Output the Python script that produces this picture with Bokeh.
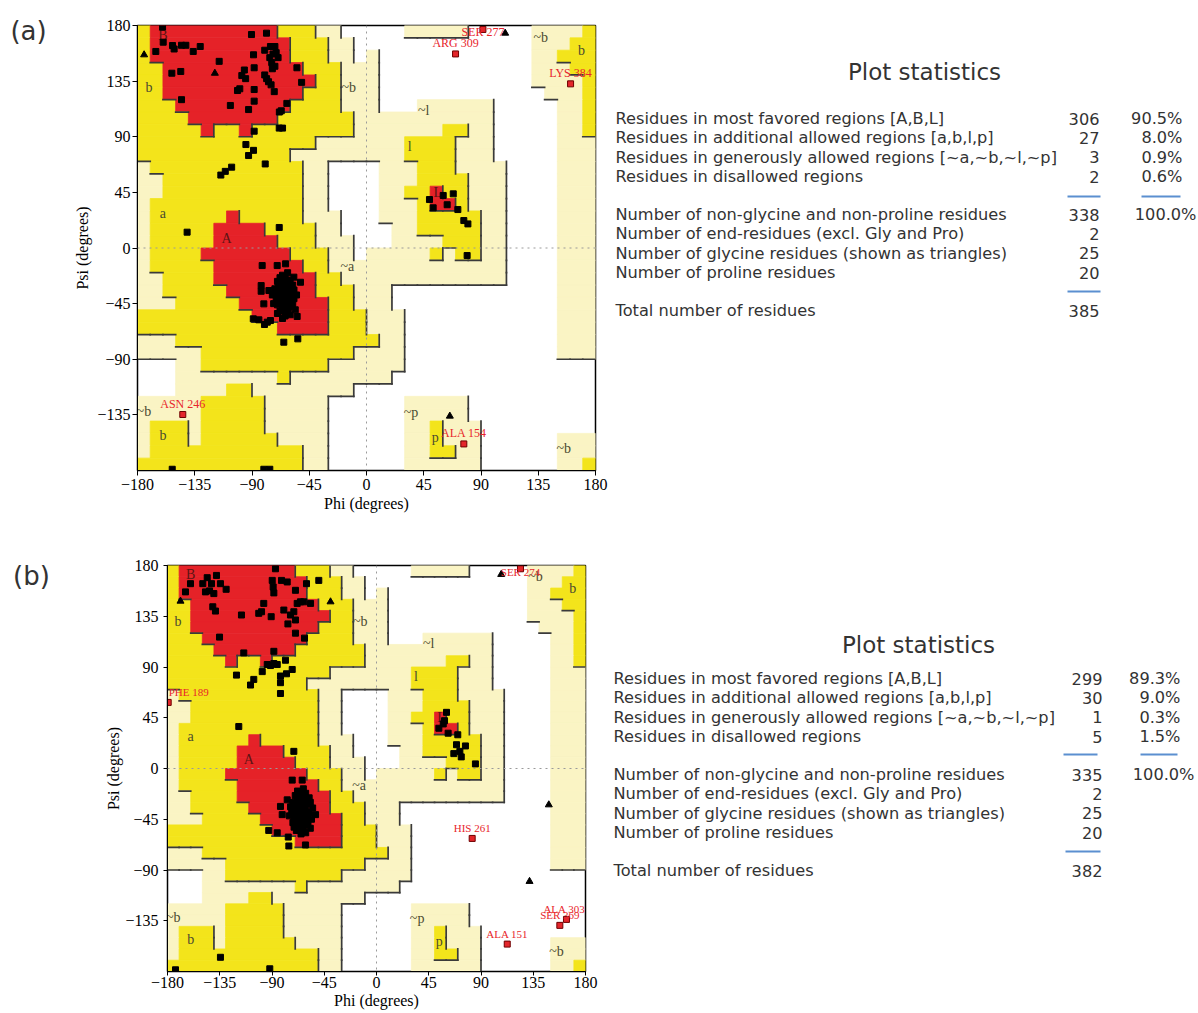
from bokeh.plotting import figure
from bokeh.layouts import row, column
from bokeh.models import Range1d, FixedTicker, Span, ColumnDataSource, LabelSet
from bokeh.core.properties import value
from bokeh.embed import file_html
from bokeh.resources import INLINE

# ---------------- data ----------------
# PROCHECK region map: 36 rows (psi 180 -> -180, 10 deg each), run-length encoded over phi -180 -> 180
# R = most favoured, Y = additional allowed, P = generously allowed, W = disallowed
REGION_RUNS = [
    "Y1 R10 Y3 P2 W5 P5 W5 P4 Y1",
    "Y1 R11 Y3 P2 W14 P3 Y2",
    "Y1 R11 Y3 P2 W1 P1 W12 P2 Y3",
    "Y2 R11 Y3 P3 W12 P3 Y2",
    "Y2 R12 Y2 P3 W12 P4 Y1",
    "Y2 R11 Y3 P3 W13 P3 Y1",
    "Y3 R9 Y4 P3 W3 P6 W5 P2 Y1",
    "Y4 R7 Y6 P11 W5 P2 Y1",
    "Y5 R1 Y2 R1 Y8 P7 Y2 P2 W5 P2 Y1",
    "Y14 P7 Y4 P3 W5 P3",
    "Y12 P9 Y4 P3 W5 P3",
    "P1 Y12 P2 W4 P3 Y3 P4 W4 P3",
    "P2 Y11 P2 W4 P3 Y4 P3 W4 P3",
    "P2 Y11 P2 W4 P2 Y2 R1 Y2 P3 W4 P3",
    "P1 Y12 P2 W4 P3 Y1 R2 Y1 P3 W4 P3",
    "P1 Y6 R1 Y5 P3 W3 P3 Y5 P2 W4 P3",
    "P1 Y5 R4 Y4 P2 W4 P2 Y5 P2 W4 P3",
    "P1 Y5 R5 Y3 P3 W3 P4 Y3 P2 W4 P3",
    "P1 Y4 R7 Y3 P2 W1 P5 Y1 P1 Y2 P2 W4 P3",
    "P1 Y5 R7 Y2 P14 W4 P3",
    "P2 Y4 R8 Y2 P13 W4 P3",
    "P2 Y5 R7 Y3 P3 W13 P3",
    "P3 Y5 R7 Y2 P3 W13 P3",
    "Y9 R6 Y3 P3 W12 P3",
    "Y11 R4 Y3 P3 W12 P3",
    "P3 Y16 P2 W12 P3",
    "P5 Y12 P4 W12 P3",
    "W3 P2 Y10 P6 W15",
    "W3 P8 Y1 P8 W16",
    "W3 P4 Y2 P8 W19",
    "P5 Y5 P5 W6 P5 W10",
    "P5 Y5 P5 W6 P5 W10",
    "P1 Y3 P1 Y5 P5 W6 P2 Y1 P3 W9",
    "P1 Y3 P1 Y6 P4 W6 P2 Y1 P3 W6 P3",
    "P1 Y12 P2 W6 P2 Y2 P2 W6 P3",
    "Y13 P2 W6 P6 W6 P2 Y1",
]

PHI_TICKS = [-180, -135, -90, -45, 0, 45, 90, 135, 180]
PSI_TICKS = [-135, -90, -45, 0, 45, 90, 135, 180]

REGION_LABELS = ["B", "A", "L", "b", "a", "b", "b", "l", "p",
                 "~b", "~b", "~a", "~l", "~b", "~p", "~b"]
REGION_LABEL_PHI = [-160, -110, 56, -171, -160, -160, 169, 34, 54,
                    -14, 137, -15, 45, -175, 35, 155]
REGION_LABEL_PSI = [172, 8, 45, 130, 28, -152, 160, 82, -153,
                    130, 170, -15, 111, -132, -133, -162]

# panel (a) residues
A_RES_PHI = [-160.3, -159.8, -165.6, -152.5, -151.2, -145.4, -142, -136.2, -130.7, -153, -146, -145.4,
             -115.8, -90.4, -78.6, -88.8, -88.3, -96, -98, -95, -101.4, -99.6, -88.3, -107, -92.7, -88.3,
             -80, -75.5, -72, -71, -69.5, -73.5, -76, -74.5, -72, -74, -80, -78.5, -77, -75, -72.5,
             -67, -68.5, -62.6, -54.7, -51, -68.6, -66, -88.3, -94.8, -88.8, -92.7, -79.6, -114.5, -111,
             -106, -141, -68.6,
             -82, -70.2, -63.6, -82.8, -82.8, -76.7, -80.7, -89, -84.6, -80.2, -78, -75.5, -54.5, -65, -54,
             -51.9, -57.1, -152.7, -80.7, -76,
             49.5, 60.3, 68.2, 52.4, 63.4, 71.8, 76.5, 79.7, 79.1,
             -66, -64, -62, -68, -65, -63, -60, -67, -64, -61, -69, -70, -66, -62, -58, -59, -57, -65, -63,
             -67, -61, -64, -62, -66, -70, -72, -71, -68, -64, -60, -56, -55, -58, -60, -68, -73, -74, -66,
             -63, -65, -67, -61, -62, -69, -59, -66, -70, -57, -63, -67, -60, -64, -68, -62, -65, -71, -61,
             -66, -64, -63]
A_RES_PSI = [178.7, 166.5, 159, 163.8, 161, 164, 164, 159, 163, 141.4, 142.8, 120,
             151, 172.7, 173.8, 156.3, 145.8, 144, 139.5, 137, 127.4, 128.8, 128.2, 115.3, 112, 118.8,
             160, 163, 163, 158, 154, 157, 154, 150, 147, 145, 140, 137, 134.5, 132, 126.5,
             111, 110, 117, 145.8, 134, 97, 97, 94.5, 83.7, 79, 74.8, 68, 59, 62,
             65.4, 12.8, 16.6,
             -14.2, -14.2, -12.8, -30.4, -35, -34.4, -45.2, -57.3, -58.1, -61.9, -60, -58.7, -55.4, -76.2, -73.5,
             -27.7, -23.6, -179, -179, -179,
             39.2, 42.5, 43.8, 32.5, 35, 31.1, 22.2, 19.5, -6.1,
             -40, -38, -42, -44, -35, -46, -40, -30, -28, -33, -38, -46, -50, -52, -45, -36, -41, -44, -33,
             -36, -48, -24, -20, -22, -27, -33, -41, -51, -55, -54, -50, -38, -30, -26, -24, -45, -38, -46,
             -39, -41, -42, -37, -30, -32, -47, -57, -53, -34, -50, -27, -44, -47, -40, -35, -31, -36, -43,
             -34, -43, -26]
A_GLY_PHI = [-174.8, -119.2, 109, 65.5]
A_GLY_PSI = [156.3, 141.4, 173.8, -136]
A_OUT_PHI = [91.5, 70, 160.4, -144.4, 76.5]
A_OUT_PSI = [176.8, 157, 132.8, -134.7, -158.5]
A_OUT_NAMES = ["SER 277", "ARG 309", "LYS 384", "ASN 246", "ALA 154"]

# panel (b) residues
B_RES_PHI = [-164.5, -160.2, -149.6, -145.8, -142.1, -137.8, -134.4, -129.5, -147.3, -143.8, -140.1, -141,
             -138.7, -135.2, -116.3, -114.3, -120.6, -105.7, -108.5, -118.6, -98.4, -97.1, -101.4, -99,
             -90.7, -87, -89.8, -89, -88.4, -81.8, -76.9, -79.8, -76.3, -69.8, -68.3, -71.2, -74.1, -69.8,
             -69.8, -62, -60.3, -65.5, -62.6, -56.8, -49.7, -88.4, -94.1, -91.3, -88.4, -85.5, -78.4, -82.7,
             -77.5, -72.6, -82.7, -82.7, -71.2,
             -72.6, -64, -76.9, -82.7, -81.2, -92.8, -85.5, -76, -75.5, -61.2, -52.5,
             -134.4, -173.1, -91.9,
             60.3, 58.6, 57.5, 53.7, 61.7, 70, 68.9, 76.6, 71.8, 73, 66.6, 85.2,
             -65, -63, -67, -61, -69, -64, -60, -66, -62, -68, -70, -71, -67, -63, -59, -58, -56, -64, -66,
             -62, -60, -65, -63, -68, -72, -73, -72, -69, -65, -61, -57, -55, -58, -61, -70, -75, -74, -67,
             -64, -66, -63, -61, -68, -70, -59, -66, -71, -57, -62, -67, -60, -65, -69, -63, -66, -72, -60,
             -64, -65, -62]
B_RES_PSI = [156.6, 163.9, 163.9, 169.2, 163.9, 171.2, 163.9, 158.9, 156.6, 157.5, 155.1, 143.4,
             139.6, 116.5, 136.1, 102.5, 82.8, 79, 74, 37.2, 85.9, 146.4, 137.6, 139,
             134.6, 177.1, 166.8, 161, 155.7, 166.8, 165.4, 140.5, 128.2, 158, 146.4, 139, 136.1, 131.7,
             120, 115.6, 163.9, 147.8, 147.8, 146.4, 166.8, 103.9, 92.2, 91.3, 93.1, 92.2, 96, 82,
             84, 87.8, 76.1, 66.5, 15.2,
             -10.3, -10.3, -27.8, -33.6, -40.9, -54.9, -57, -60.8, -68.7, -67.8, -40.9,
             -167.4, -178.5, -177.6,
             49.8, 42.4, 39.5, 35.7, 31.3, 29.9, 21.1, 20, 15.2, 10.3, 13.2, 4.1,
             -38, -41, -44, -36, -40, -47, -43, -32, -29, -27, -35, -43, -51, -53, -49, -39, -45, -35, -42,
             -45, -31, -23, -18, -20, -30, -38, -48, -55, -58, -57, -53, -35, -26, -22, -24, -42, -34, -47,
             -40, -37, -33, -39, -31, -49, -44, -54, -52, -30, -50, -25, -47, -50, -37, -37, -28, -39, -40,
             -30, -45, -24]
B_GLY_PHI = [-168.8, -39.6, 107.4, 148.4, 131.8]
B_GLY_PSI = [148.4, 147.8, 172.1, -32.2, -100.1]
B_OUT_PHI = [124, -179.4, 82.4, 112.6, 163.6, 157.9]
B_OUT_PSI = [177.1, 58.6, -62, -155.7, -133.8, -139.1]
B_OUT_NAMES = ["SER 274", "PHE 189", "HIS 261", "ALA 151", "ALA 303", "SER 369"]

# statistics tables
STAT_LABELS = ["Residues in most favored regions [A,B,L]",
               "Residues in additional allowed regions [a,b,l,p]",
               "Residues in generously allowed regions [~a,~b,~l,~p]",
               "Residues in disallowed regions",
               "Number of non-glycine and non-proline residues",
               "Number of end-residues (excl. Gly and Pro)",
               "Number of glycine residues (shown as triangles)",
               "Number of proline residues",
               "Total number of residues"]
A_COUNTS = ["306", "27", "3", "2", "338", "2", "25", "20", "385"]
A_PCTS = ["90.5%", "8.0%", "0.9%", "0.6%", "100.0%"]
B_COUNTS = ["299", "30", "1", "5", "335", "2", "25", "20", "382"]
B_PCTS = ["89.3%", "9.0%", "0.3%", "1.5%", "100.0%"]

# ---------------- styling ----------------
LEVEL = {"R": 3, "Y": 2, "P": 1, "W": 0}
FILL = {"R": "#e52228", "Y": "#f3e41b", "P": "#faf4c4"}
SERIF = "Liberation Serif"
SANS = "DejaVu Sans"
TXT = "#333333"


def parse_runs(s):
    out = []
    for tok in s.split():
        out += [tok[0]] * int(tok[1:])
    return (out + ["W"] * 36)[:36]


GRID = [parse_runs(s) for s in REGION_RUNS]


def draw_regions(p):
    left, right, top, bottom, color = [], [], [], [], []
    for r, cells in enumerate(GRID):
        t = 180 - 10 * r
        c = 0
        while c < 36:
            k = cells[c]
            c2 = c
            while c2 + 1 < 36 and cells[c2 + 1] == k:
                c2 += 1
            if k != "W":
                left.append(-180 + 10 * c)
                right.append(-180 + 10 * (c2 + 1))
                top.append(t)
                bottom.append(t - 10)
                color.append(FILL[k])
            c = c2 + 1
    p.quad(left=left, right=right, top=top, bottom=bottom,
           fill_color=color, line_color=color, line_width=0.8)
    xs, ys = [], []
    for r in range(36):
        for c in range(36):
            lv = LEVEL[GRID[r][c]]
            x0 = -180 + 10 * c
            t = 180 - 10 * r
            if c < 35 and lv > LEVEL[GRID[r][c + 1]]:
                xs.append([x0 + 10, x0 + 10]); ys.append([t - 10, t])
            if r < 35 and lv > LEVEL[GRID[r + 1][c]]:
                xs.append([x0, x0 + 10]); ys.append([t - 10, t - 10])
    p.multi_line(xs, ys, line_color="#3a3a3a", line_width=1.7, line_cap="square")


def rama(width, height, bl, br, bt, bb, res_phi, res_psi, gly_phi, gly_psi,
         out_phi, out_psi, out_names, lab_size, tick_out, tick_standoff, xlab_standoff,
         ylab_standoff, ylab_tick_standoff):
    p = figure(width=width, height=height, x_range=Range1d(-180, 180), y_range=Range1d(-180, 180),
               output_backend="svg", toolbar_location=None,
               min_border_left=bl, min_border_right=br, min_border_top=bt, min_border_bottom=bb)
    p.grid.visible = False
    p.background_fill_color = "white"
    p.border_fill_color = "white"
    p.outline_line_color = "black"
    p.outline_line_width = 1.5
    p.outline_line_alpha = 1.0
    draw_regions(p)

    lab_col = ["#5c1414" if t in ("A", "B", "L") else "#4a4a30" for t in REGION_LABELS]
    p.text(x=REGION_LABEL_PHI, y=REGION_LABEL_PSI, text=REGION_LABELS, text_color=lab_col,
           text_font=value(SERIF), text_font_size="14px", text_align="center", text_baseline="middle")

    p.add_layout(Span(location=0, dimension="height", line_color="#9a9a9a", line_dash="dotted", line_width=1))
    p.add_layout(Span(location=0, dimension="width", line_color="#9a9a9a", line_dash="dotted", line_width=1))

    p.scatter(res_phi, res_psi, marker="square", size=6, fill_color="black", line_color="black")
    p.scatter(gly_phi, gly_psi, marker="triangle", size=7, fill_color="black", line_color="black")
    p.scatter(out_phi, out_psi, marker="square", size=6, fill_color="#e3262b", line_color="#6e0000")

    # keep the residue labels inside the plotting frame (text is clipped at the frame)
    frame_w = width - bl - br
    frame_h = height - bt - bb
    px_deg_x = frame_w / 360.0
    px_deg_y = frame_h / 360.0
    lx, ly = [], []
    for ph, ps, nm in zip(out_phi, out_psi, out_names):
        hw = 0.5 * len(nm) * lab_size * 0.52 / px_deg_x
        lx.append(min(max(ph, -180 + hw + 1), 180 - hw - 1))
        ly.append(min(ps, 180 - (lab_size + 5) / px_deg_y))
    src = ColumnDataSource(dict(x=lx, y=ly, t=out_names))
    p.add_layout(LabelSet(x="x", y="y", text="t", source=src, text_align="center", text_baseline="bottom",
                          y_offset=4, text_color="#e8262c", text_font=value(SERIF),
                          text_font_size=f"{lab_size}px"))

    p.xaxis.ticker = FixedTicker(ticks=PHI_TICKS)
    p.yaxis.ticker = FixedTicker(ticks=PSI_TICKS)
    p.xaxis.axis_label = "Phi (degrees)"
    p.yaxis.axis_label = "Psi (degrees)"
    for ax in (p.xaxis, p.yaxis):
        ax.minor_tick_line_color = None
        ax.major_tick_in = 0
        ax.major_tick_out = tick_out
        ax.major_tick_line_color = "black"
        ax.axis_line_color = "black"
        ax.major_label_text_font = SERIF
        ax.major_label_text_font_size = "16px"
        ax.major_label_text_color = "black"
        ax.axis_label_text_font = SERIF
        ax.axis_label_text_font_size = "16px"
        ax.axis_label_text_font_style = "normal"
        ax.axis_label_text_color = "black"
    p.xaxis.major_label_standoff = tick_standoff
    p.yaxis.major_label_standoff = ylab_tick_standoff
    p.xaxis.axis_label_standoff = xlab_standoff
    p.yaxis.axis_label_standoff = ylab_standoff
    return p


def page_fig(w, h, x0, y0, bt=0, bb=0):
    # a figure whose data coordinates are page pixels (frame spans y0+bt .. y0+h-bb)
    p = figure(width=w, height=h, x_range=Range1d(x0, x0 + w), y_range=Range1d(y0 + h - bb, y0 + bt),
               output_backend="svg", toolbar_location=None, x_axis_location=None, y_axis_location=None,
               min_border_left=0, min_border_right=0, min_border_top=bt, min_border_bottom=bb)
    p.grid.visible = False
    p.outline_line_color = None
    p.background_fill_color = "white"
    p.border_fill_color = "white"
    return p


def stats(p, title_xy, x_label, x_count, x_pct, x_pct_full, y_first, y_second, y_total, gap,
          line1_y, line2_y, cnt_line, pct_line, cnt_line2, counts, pcts):
    p.text(x=[title_xy[0]], y=[title_xy[1]], text=["Plot statistics"], text_font=value(SANS),
           text_font_size="23px", text_color=TXT, text_align="center", text_baseline="middle")
    ys = [y_first + gap * i for i in range(4)] + [y_second + gap * i for i in range(4)] + [y_total]
    p.text(x=[x_label] * 9, y=ys, text=STAT_LABELS, text_font=value(SANS), text_font_size="16.2px",
           text_color=TXT, text_align="left", text_baseline="middle")
    p.text(x=[x_count] * 9, y=ys, text=counts, text_font=value(SANS), text_font_size="16.2px",
           text_color=TXT, text_align="right", text_baseline="middle")
    pxs = [x_pct] * 4 + [x_pct_full]
    p.text(x=pxs, y=ys[:5], text=pcts, text_font=value(SANS), text_font_size="16.2px",
           text_color=TXT, text_align="right", text_baseline="middle")
    p.segment(x0=[cnt_line[0], pct_line[0], cnt_line2[0]], y0=[line1_y, line1_y, line2_y],
              x1=[cnt_line[1], pct_line[1], cnt_line2[1]], y1=[line1_y, line1_y, line2_y],
              line_color="#5b8fd0", line_width=2)


# ---------------- layout ----------------
A_BT, A_BB = 25, 46
H_A = A_BT + 445 + A_BB          # 516
B_BT, B_BB = 49, 42
H_B = 1013 - H_A                 # 497

lab_a = page_fig(60, H_A, 0, 0)
lab_a.text(x=[28], y=[30], text=["(a)"], text_font=value(SANS), text_font_size="26px",
           text_color=TXT, text_align="center", text_baseline="middle")
lab_b = page_fig(60, H_B, 0, H_A)
lab_b.text(x=[31], y=[575], text=["(b)"], text_font=value(SANS), text_font_size="26px",
           text_color=TXT, text_align="center", text_baseline="middle")

rama_a = rama(549, H_A, 77, 14, A_BT, A_BB, A_RES_PHI, A_RES_PSI, A_GLY_PHI, A_GLY_PSI,
              A_OUT_PHI, A_OUT_PSI, A_OUT_NAMES, 12, 5, 3, 2, 3, 2)
st_a = page_fig(589, H_A, 609, 0, A_BT, A_BB)
stats(st_a, (924, 71), 615, 1099, 1182, 1196, 118, 214, 310, 19.4, 196, 291,
      (1067, 1100), (1141, 1180), (1067, 1100), A_COUNTS, A_PCTS)

rama_b = rama(545, H_B, 107, 20, B_BT, B_BB, B_RES_PHI, B_RES_PSI, B_GLY_PHI, B_GLY_PSI,
              B_OUT_PHI, B_OUT_PSI, B_OUT_NAMES, 11, 4, 1, 1, 0, 5)
st_b = page_fig(593, H_B, 605, H_A, B_BT, B_BB)
stats(st_b, (918, 644), 613, 1102, 1180, 1194, 678, 774, 870, 19.4, 754, 851,
      (1063, 1097), (1140, 1177), (1065, 1100), B_COUNTS, B_PCTS)

layout = row(column(lab_a, lab_b),
             column(row(rama_a, st_a), row(rama_b, st_b)))

open("out.html", "w").write(file_html(layout, INLINE))
